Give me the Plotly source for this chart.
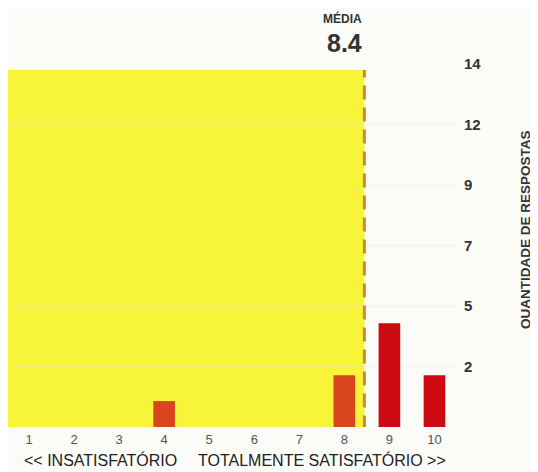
import plotly.graph_objects as go

# notas de 1 a 10 e quantidade de respostas
notas = [1, 2, 3, 4, 5, 6, 7, 8, 9, 10]
respostas = [0, 0, 0, 1, 0, 0, 0, 2, 4, 2]
cores = ['#d9461e'] * 8 + ['#cc0a12'] * 2

# eixo da direita
y_ticks = [14 / 6 * i for i in range(1, 7)]
y_labels = ['2', '5', '7', '9', '12', '14']

media = sum(n * r for n, r in zip(notas, respostas)) / sum(respostas)

fig = go.Figure(go.Bar(
    x=notas,
    y=respostas,
    width=0.48,
    marker=dict(color=cores, line=dict(width=0)),
    hoverinfo='x+y'
))

# faixa amarela ate a media
fig.add_shape(type='rect', xref='x', yref='y', x0=0.534, x1=media, y0=0, y1=13.77,
              fillcolor='#f8f43a', line=dict(width=0), layer='below')
# linha tracejada da media
fig.add_shape(type='line', xref='x', yref='y', x0=media, x1=media, y0=-0.1, y1=13.77,
              line=dict(color='#cf8a2a', width=3, dash='14px,8px'))

fig.add_annotation(x=media, y=1.124, xref='x', yref='paper', text='<b>MÉDIA</b>',
                   showarrow=False, xanchor='right', yanchor='middle',
                   font=dict(family='Liberation Sans, Arial', size=12, color='#333'))
fig.add_annotation(x=media, y=1.058, xref='x', yref='paper', text='<b>%.1f</b>' % media,
                   showarrow=False, xanchor='right', yanchor='middle',
                   font=dict(family='Liberation Sans, Arial', size=25, color='#333'))

fig.add_annotation(x=1.154, y=0.543, xref='paper', yref='paper', text='<b>QUANTIDADE DE RESPOSTAS</b>',
                   showarrow=False, textangle=-90, xanchor='center', yanchor='middle',
                   font=dict(family='Liberation Sans, Arial', size=13.5, color='#333'))

fig.add_annotation(x=0.031, y=-0.091, xref='paper', yref='paper', text='&lt;&lt; INSATISFATÓRIO',
                   showarrow=False, xanchor='left', yanchor='middle',
                   font=dict(family='Liberation Sans, Arial', size=16, color='#222'))
fig.add_annotation(x=0.98, y=-0.091, xref='paper', yref='paper', text='TOTALMENTE SATISFATÓRIO &gt;&gt;',
                   showarrow=False, xanchor='right', yanchor='middle',
                   font=dict(family='Liberation Sans, Arial', size=16, color='#222'))

# a pagina tem margem de 8px, por isso a figura e 8px menor
fig.update_layout(
    width=530, height=464,
    margin=dict(l=0, r=81, t=56, b=45),
    paper_bgcolor='#fbfbf8',
    plot_bgcolor='#fbfbf8',
    showlegend=False,
    xaxis=dict(
        range=[0.534, 10.5],
        tickvals=notas,
        ticktext=[str(n) for n in notas],
        showgrid=False, zeroline=False, showline=False, ticks='',
        ticklabelstandoff=3,
        tickfont=dict(family='Liberation Sans, Arial', size=13, color='#555')
    ),
    yaxis=dict(
        side='right',
        range=[0, 14],
        tickvals=y_ticks,
        ticktext=y_labels,
        showgrid=True, gridcolor='rgba(225,225,215,0.35)', gridwidth=1,
        zeroline=False, showline=False, ticks='',
        ticklabelstandoff=6,
        tickfont=dict(family='Liberation Sans, Arial', size=15, color='#333', weight='bold')
    )
)

fig.write_html("out.html")
